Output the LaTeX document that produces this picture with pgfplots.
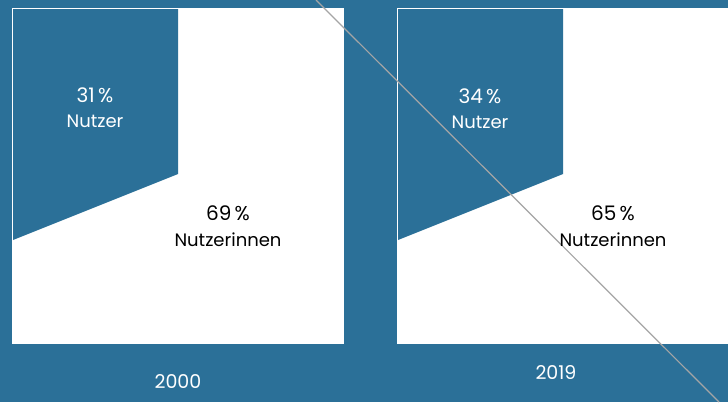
\documentclass[border=0pt]{standalone}
\usepackage{pgfplots}
\pgfplotsset{compat=1.18}
\usepackage{fontspec}
\setmainfont{Poppins}
\definecolor{bg}{RGB}{43,112,152}
\definecolor{ln}{RGB}{165,165,165}
\begin{document}
\begin{tikzpicture}
\begin{axis}[width=364pt,height=201pt,scale only axis,
  xmin=0,xmax=728,ymin=0,ymax=402,y dir=reverse,hide axis,clip=true]
% background and the two panels
\addplot[draw=none,fill=bg] coordinates {(0,0)(728,0)(728,402)(0,402)};
\addplot[draw=none,fill=white] coordinates {(12,8)(344,8)(344,344)(12,344)};
\addplot[draw=none,fill=white] coordinates {(397,8)(740,8)(740,344)(397,344)};
% Nutzer shares
\addplot[draw=none,fill=bg] coordinates {(13,9)(178,9)(178,174)(13,240)};
\addplot[draw=none,fill=bg] coordinates {(398,9)(563,9)(563,174)(398,240)};
% diagonal
\addplot[ln,line width=0.6pt] coordinates {(316,0)(719,402)};
% labels
\tikzset{pct/.style={anchor=base,font=\fontsize{10}{12}\selectfont},
  wrd/.style={anchor=base,font=\fontsize{9}{11}\selectfont}}
\node[pct,text=white] at (axis cs:95,102) {31\,\%};
\node[wrd,text=white] at (axis cs:95,127) {Nutzer};
\node[pct,text=white] at (axis cs:480,103) {34\,\%};
\node[wrd,text=white] at (axis cs:480,128) {Nutzer};
\node[pct,text=black] at (axis cs:228,220) {69\,\%};
\node[wrd,text=black] at (axis cs:228,246) {Nutzerinnen};
\node[pct,text=black] at (axis cs:613,220) {65\,\%};
\node[wrd,text=black] at (axis cs:613,246) {Nutzerinnen};
\node[wrd,font=\fontsize{9.5}{11}\selectfont,text=white] at (axis cs:178,388) {2000};
\node[wrd,font=\fontsize{9.5}{11}\selectfont,text=white] at (axis cs:556,379) {2019};
\end{axis}
\end{tikzpicture}
\end{document}
